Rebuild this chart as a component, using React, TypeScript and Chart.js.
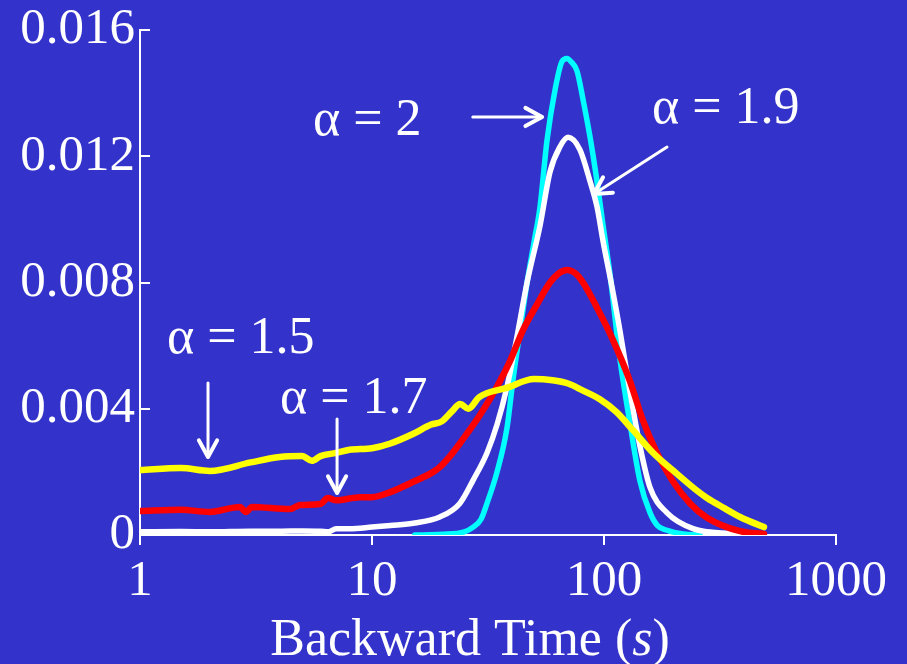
import React, { useEffect, useRef } from "react";
import { Chart, registerables } from "chart.js";

Chart.register(...registerables);

const BG = "#3333cc";
const FONT_FAMILY = "'Liberation Serif', 'Times New Roman', serif";

const xTicks = [1, 10, 100, 1000];
const xTickLabels = ["1", "10", "100", "1000"];
const yTicks = [0, 0.004, 0.008, 0.012, 0.016];
const yTickLabels = ["0", "0.004", "0.008", "0.012", "0.016"];

// alpha = 2 (cyan)
const cyanX = [15.3, 20, 25, 27.3, 29.5, 31.3, 34.6, 38.2, 40.5, 43.5, 46.6, 50, 53, 56.8, 61.5, 65.9, 69.3, 72, 76.5, 81.2, 87.1, 93.3, 99.1, 106, 117, 129, 143, 158, 170, 187, 220, 259];
const cyanY = [0, 0.00002, 0.0001, 0.00025, 0.0005, 0.001, 0.002, 0.0034, 0.0049, 0.0065, 0.008, 0.0093, 0.0104, 0.0125, 0.0141, 0.015, 0.0151, 0.015, 0.0147, 0.0138, 0.0126, 0.0112, 0.0098, 0.0083, 0.0056, 0.0036, 0.0017, 0.0007, 0.0003, 0.00015, 0.00003, 0];

// alpha = 1.9 (white)
const whiteX = [1, 1.5, 2, 3, 4, 5, 6, 6.5, 7, 8, 10, 12, 15.3, 19.6, 23.9, 27.3, 31.3, 34.6, 38.2, 42.2, 46.6, 53, 58.5, 64.6, 70, 78.8, 87.1, 93.3, 99.1, 108, 117, 129, 143, 158, 187, 242, 350, 489];
const whiteY = [0.0001, 0.00011, 0.0001, 0.00012, 0.00012, 0.00013, 0.00012, 0.0001, 0.0002, 0.0002, 0.00025, 0.0003, 0.00038, 0.00057, 0.001, 0.00174, 0.0026, 0.0035, 0.0047, 0.0063, 0.008, 0.0098, 0.0115, 0.0123, 0.0126, 0.0122, 0.0112, 0.0104, 0.0093, 0.0079, 0.0065, 0.0046, 0.0028, 0.0015, 0.0007, 0.0002, 0.00005, 0.00002];

// alpha = 1.7 (red)
const redX = [1, 1.5, 2, 2.7, 2.86, 3.04, 4.43, 4.9, 5.97, 6.46, 7, 8.87, 10, 12, 15, 18, 19.6, 21.7, 23.9, 29.2, 34.6, 39.3, 44.8, 51.4, 58.5, 64, 69.3, 75, 81.2, 93.3, 109, 129, 147, 169, 198, 235, 278, 386, 489];
const redY = [0.00076, 0.0008, 0.00073, 0.00089, 0.00073, 0.00089, 0.00082, 0.00095, 0.00098, 0.00117, 0.0011, 0.0012, 0.0012, 0.00136, 0.00168, 0.00196, 0.00215, 0.0025, 0.0029, 0.0038, 0.0047, 0.0055, 0.0065, 0.0073, 0.008, 0.0083, 0.0084, 0.0083, 0.008, 0.0072, 0.0062, 0.0049, 0.00364, 0.0026, 0.0017, 0.001, 0.00055, 0.00012, 0.00003];

// alpha = 1.5 (yellow)
const yellowX = [1, 1.5, 2, 3, 4, 5, 5.5, 6, 7, 8, 10, 12, 15, 18, 20, 22, 24, 26, 29, 38, 50, 60, 70, 80, 96, 113, 133, 163, 198, 252, 277, 330, 386, 489];
const yellowY = [0.00206, 0.00212, 0.00203, 0.0023, 0.00247, 0.0025, 0.00235, 0.0025, 0.0026, 0.0027, 0.00275, 0.0029, 0.0032, 0.0035, 0.0036, 0.0039, 0.00415, 0.004, 0.00437, 0.00466, 0.00494, 0.0049, 0.0048, 0.0046, 0.0043, 0.0039, 0.00333, 0.0026, 0.00205, 0.0014, 0.00118, 0.00085, 0.00057, 0.00025];

// annotations (data coordinates)
const annotationLabels = ["α = 2", "α = 1.9", "α = 1.5", "α = 1.7"];
const annotationX = [5.57, 161, 1.307, 4.01];
const annotationY = [0.01267, 0.01305, 0.005766, 0.003865];
const arrowFromX = [27.2, 186.9, 1.964, 7.07];
const arrowFromY = [0.013244, 0.012293, 0.004816, 0.003675];
const arrowToX = [54.1, 90.5, 1.964, 7.07];
const arrowToY = [0.013244, 0.010804, 0.002471, 0.001331];

const titleParts = ["Backward Time (", "s", ")"];

function pts(xs: number[], ys: number[]) {
  return xs.map((x, i) => ({ x, y: ys[i] }));
}

const decorPlugin = {
  id: "decor",
  beforeDraw(chart: any) {
    const { ctx, width, height } = chart;
    ctx.save();
    ctx.fillStyle = BG;
    ctx.fillRect(0, 0, width, height);
    ctx.restore();
  },
  afterDraw(chart: any) {
    const { ctx, chartArea, scales } = chart;
    const xs = scales.x;
    const ys = scales.y;
    ctx.save();
    ctx.strokeStyle = "#ffffff";
    ctx.fillStyle = "#ffffff";
    ctx.lineWidth = 2;
    // inward y ticks
    yTicks.forEach((v) => {
      const py = Math.round(ys.getPixelForValue(v));
      ctx.beginPath();
      ctx.moveTo(chartArea.left, py);
      ctx.lineTo(chartArea.left + 10, py);
      ctx.stroke();
    });
    // annotation labels
    ctx.font = `52px ${FONT_FAMILY}`;
    ctx.textAlign = "left";
    ctx.textBaseline = "alphabetic";
    annotationLabels.forEach((t, i) => {
      ctx.fillText(t, xs.getPixelForValue(annotationX[i]), ys.getPixelForValue(annotationY[i]));
    });
    // arrows
    ctx.lineCap = "round";
    ctx.lineJoin = "round";
    arrowFromX.forEach((_, i) => {
      const x0 = xs.getPixelForValue(arrowFromX[i]);
      const y0 = ys.getPixelForValue(arrowFromY[i]);
      const x1 = xs.getPixelForValue(arrowToX[i]);
      const y1 = ys.getPixelForValue(arrowToY[i]);
      const ang = Math.atan2(y1 - y0, x1 - x0);
      ctx.lineWidth = 3;
      ctx.beginPath();
      ctx.moveTo(x0, y0);
      ctx.lineTo(x1, y1);
      ctx.stroke();
      const hl = 19;
      const hw = 0.5;
      ctx.lineWidth = 4;
      ctx.beginPath();
      ctx.moveTo(x1 - hl * Math.cos(ang - hw), y1 - hl * Math.sin(ang - hw));
      ctx.lineTo(x1, y1);
      ctx.lineTo(x1 - hl * Math.cos(ang + hw), y1 - hl * Math.sin(ang + hw));
      ctx.stroke();
    });
    // axis title with italic s
    const fonts = [`52px ${FONT_FAMILY}`, `italic 52px ${FONT_FAMILY}`, `52px ${FONT_FAMILY}`];
    let total = 0;
    const widths = titleParts.map((p, i) => {
      ctx.font = fonts[i];
      const w = ctx.measureText(p).width;
      total += w;
      return w;
    });
    let tx = (chartArea.left + chartArea.right) / 2 - 18 - total / 2;
    const ty = chartArea.bottom + 120;
    titleParts.forEach((p, i) => {
      ctx.font = fonts[i];
      ctx.fillText(p, tx, ty);
      tx += widths[i];
    });
    ctx.restore();
  },
};

export default function App() {
  const ref = useRef<HTMLCanvasElement | null>(null);
  useEffect(() => {
    if (!ref.current) return;
    const lineDs = (label: string, xs: number[], ys: number[], color: string, w: number) => ({
      label,
      data: pts(xs, ys),
      borderColor: color,
      backgroundColor: color,
      borderWidth: w,
      pointRadius: 0,
      fill: false,
      cubicInterpolationMode: "monotone" as const,
      borderCapStyle: "round" as const,
      borderJoinStyle: "round" as const,
    });
    const chart = new Chart(ref.current, {
      type: "line",
      data: {
        datasets: [
          lineDs("α = 1.5", yellowX, yellowY, "#ffff00", 6.5),
          lineDs("α = 1.7", redX, redY, "#ff0000", 6.5),
          lineDs("α = 1.9", whiteX, whiteY, "#ffffff", 5.5),
          lineDs("α = 2", cyanX, cyanY, "#00ffff", 5.5),
        ],
      },
      options: {
        animation: false,
        responsive: false,
        maintainAspectRatio: false,
        parsing: false as any,
        layout: { padding: { left: 0, right: 71, top: 30, bottom: 0 } },
        plugins: {
          legend: { display: false },
          tooltip: { enabled: false },
          title: { display: false },
        },
        scales: {
          x: {
            type: "logarithmic",
            min: 1,
            max: 1000,
            afterBuildTicks: (scale: any) => {
              scale.ticks = xTicks.map((v) => ({ value: v }));
            },
            afterFit: (scale: any) => {
              scale.height = 129;
              scale.paddingLeft = 0;
              scale.paddingRight = 0;
            },
            ticks: {
              color: "#ffffff",
              font: { family: FONT_FAMILY, size: 51 },
              padding: 6,
              maxRotation: 0,
              autoSkip: false,
              callback: (_v: any, i: number) => xTickLabels[i],
            },
            grid: {
              display: true,
              drawOnChartArea: false,
              drawTicks: true,
              tickLength: 10,
              color: "#ffffff",
              lineWidth: 2,
            },
            border: { display: true, color: "#ffffff", width: 2 },
          },
          y: {
            type: "linear",
            min: 0,
            max: 0.016,
            afterBuildTicks: (scale: any) => {
              scale.ticks = yTicks.map((v) => ({ value: v }));
            },
            afterFit: (scale: any) => {
              scale.width = 140;
              scale.paddingTop = 0;
              scale.paddingBottom = 0;
            },
            ticks: {
              color: "#ffffff",
              font: { family: FONT_FAMILY, size: 51 },
              padding: 5,
              autoSkip: false,
              callback: (_v: any, i: number) => yTickLabels[i],
            },
            grid: {
              display: true,
              drawOnChartArea: false,
              drawTicks: false,
            },
            border: { display: true, color: "#ffffff", width: 2 },
          },
        },
      },
      plugins: [decorPlugin],
    });
    return () => chart.destroy();
  }, []);
  return (
    <div style={{ position: "fixed", left: 0, top: 0, width: 907, height: 664, background: BG }}>
      <canvas ref={ref} width={907} height={664} style={{ display: "block", width: 907, height: 664 }} />
    </div>
  );
}
